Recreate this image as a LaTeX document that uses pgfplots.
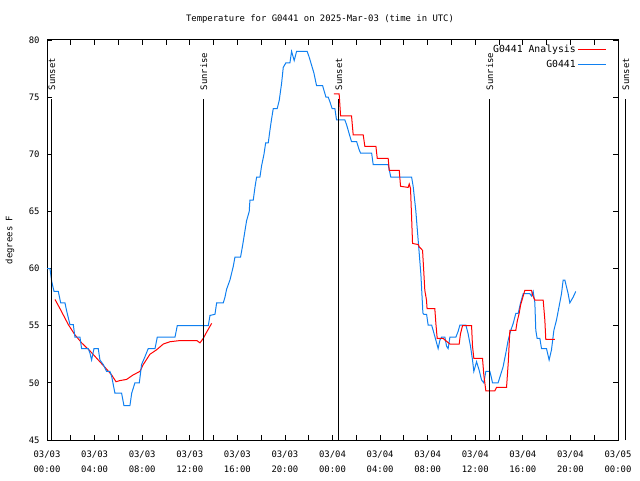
\documentclass[border=0pt]{standalone}
\usepackage{fontspec}
\setmainfont{DejaVu Sans Mono}
\usepackage{pgfplots}
\pgfplotsset{compat=1.18}
\definecolor{obsblue}{RGB}{16,128,240}
\definecolor{anared}{RGB}{255,0,0}
\begin{document}
\begin{tikzpicture}[font=\fontsize{8.9}{10.5}\selectfont]
\path[use as bounding box] (0,0) rectangle (640pt,480pt);
\begin{axis}[
 at={(47pt,40pt)}, anchor=south west,
 scale only axis, width=571pt, height=400pt,
 xmin=0, xmax=48, ymin=45, ymax=80,
 xtick={0,4,...,48},
 xticklabels={{03/03\\00:00},{03/03\\04:00},{03/03\\08:00},{03/03\\12:00},{03/03\\16:00},{03/03\\20:00},{03/04\\00:00},{03/04\\04:00},{03/04\\08:00},{03/04\\12:00},{03/04\\16:00},{03/04\\20:00},{03/05\\00:00}},
 xticklabel style={align=center, font=\fontsize{8.9}{15}\selectfont, yshift=-7pt},
 yticklabel style={xshift=-4pt},
 minor xtick={2,6,...,46},
 ytick={45,50,...,80},
 major tick length=5pt, minor tick length=5pt,
 tick style={black, line width=0.8pt},
 axis line style={line width=1pt},
 clip=false,
 /pgf/number format/assume math mode=true,
 legend style={at={(rel axis cs:1,1)}, anchor=north east, xshift=-10pt, yshift=-2pt, draw=none, fill=none, inner sep=1pt, row sep=2pt, font=\fontsize{9.8}{11}\selectfont},
 legend plot pos=right,
 legend cell align=right,
 legend image code/.code={\draw[#1] (3pt,0pt) -- (31pt,0pt);},
]
\addplot[anared, line width=1pt] coordinates {
(0.67,57.3)(1.09,56.5)(1.79,55.1)(2.35,54.2)(2.91,53.5)(3.61,52.8)(4.31,52.0)(5.01,51.2)(5.43,50.7)(5.80,50.1)(6.13,50.2)(6.69,50.3)(7.25,50.7)(7.81,51.0)(8.09,51.6)(8.65,52.5)(9.22,52.9)(9.78,53.4)(10.34,53.6)(11.18,53.7)(12.0,53.7)(12.6,53.7)(12.86,53.5)(13.14,53.9)(13.4,54.4)(13.84,55.2)
};
\addlegendentry{G0441 Analysis}
\addplot[obsblue, line width=1pt] coordinates {
(0,60)(0.25,60)(0.39,58.9)(0.59,58.0)(0.95,58.0)(1.15,57.0)(1.51,57.0)(1.65,56.3)(1.93,55.1)(2.21,55.1)(2.35,54.0)(2.77,54.0)(2.91,53.0)(3.47,53.0)(3.61,52.6)(3.75,52.0)(3.95,53.0)(4.31,53.0)(4.45,52.0)(4.73,51.6)(5.01,51.0)(5.29,51.0)(5.43,50.6)(5.71,49.1)(6.27,49.1)(6.47,48.0)(6.97,48.0)(7.12,49.1)(7.39,50.0)(7.76,50.0)(7.95,51.6)(8.24,52.3)(8.51,53.0)(9.08,53.0)(9.27,54.0)(10.76,54.0)(10.95,55.0)(13.56,55.0)
(13.70,55.9)(14.12,56.0)(14.26,57.0)(14.82,57.0)(14.96,57.5)(15.10,58.2)(15.38,59.0)(15.66,60.2)(15.80,61.0)(16.27,61.0)(16.44,62.0)(16.64,63.3)(16.78,64.2)(17.0,65.0)(17.06,66.0)(17.34,66.0)(17.48,67.1)(17.62,68.0)(17.90,68.0)(18.04,69.0)(18.24,70.0)(18.38,71.0)(18.60,71.0)(18.74,72.1)(18.88,73.1)(19.02,74.0)(19.35,74.0)(19.52,74.7)(19.72,76.2)(19.86,77.6)(20.08,78.0)(20.42,78.0)(20.56,79.0)(20.78,78.2)(20.98,79.0)(21.87,79.0)(22.04,78.5)(22.24,77.8)(22.44,77.1)(22.66,76.0)(23.17,76.0)(23.28,75.6)(23.45,75.0)(23.64,75.0)(23.78,74.6)(23.97,74.0)(24.20,74.0)(24.34,73.0)(25.04,73.0)(25.18,72.6)(25.40,71.8)(25.60,71.1)(26.03,71.1)(26.24,70.4)
(26.36,70.1)(27.29,70.1)(27.42,69.1)(28.68,69.1)(28.9,68.0)(30.65,68.0)(30.78,67.2)(31.0,65.1)(31.2,62.5)(31.43,59.5)(31.6,56.1)
(31.68,56.0)(31.91,56.0)(32.04,55.06)(32.33,55.06)(32.46,54.6)(32.75,53.5)(32.88,53.0)(33.03,53.75)(33.17,54.0)(33.45,54.0)(33.59,53.2)(33.72,53.0)(33.87,54.0)(34.37,54.0)(34.56,54.5)(34.71,55.06)(35.21,55.06)(35.40,54.3)(35.6,53.2)(35.77,52.0)(35.88,51.0)(36.11,51.85)(36.33,51.1)(36.53,50.25)(36.72,50.0)(36.89,51.0)(37.23,51.0)(37.37,50.4)(37.45,50.0)(37.92,50.0)(38.07,50.5)(38.34,51.4)(38.57,52.6)(38.77,53.75)(38.99,54.6)(39.19,55.2)(39.41,56.08)(39.61,56.08)(39.81,57.0)(40.03,57.8)(40.59,57.8)(40.73,57.6)(40.87,58.0)(41.01,57.0)(41.09,54.6)(41.2,53.9)(41.43,53.9)(41.57,53.0)(41.99,53.0)(42.21,52.0)(42.41,52.9)(42.61,54.6)(42.83,55.5)(43.05,56.7)(43.25,57.8)(43.39,59.0)(43.53,59.0)(43.67,58.4)(43.81,57.8)(43.95,57.0)(44.23,57.5)(44.45,58.0)
};
\addlegendentry{G0441}
\addplot[anared, line width=1pt, forget plot] coordinates {
(24.12,75.28)(24.56,75.28)(24.68,73.35)(25.6,73.35)(25.74,71.7)(26.58,71.7)(26.72,70.7)(27.65,70.7)(27.76,69.65)(28.68,69.65)(28.77,68.6)(29.61,68.6)(29.72,67.2)(30.36,67.1)(30.45,67.4)(30.56,67.0)(30.73,62.2)(31.2,62.1)(31.29,61.9)(31.57,61.6)(31.68,59.6)(31.76,58.1)(31.9,57.25)(31.95,56.5)(32.6,56.5)(32.69,55.2)(32.8,53.9)(33.3,53.9)(33.45,53.75)(33.87,53.4)(34.65,53.4)(34.76,54.3)(34.93,55.0)(35.69,55.0)(35.77,53.2)(35.88,52.15)(36.61,52.15)(36.72,50.7)(36.89,49.3)(37.65,49.3)(37.79,49.6)(38.63,49.6)(38.77,51.7)(38.91,54.6)(39.41,54.6)(39.52,55.35)(39.69,56.08)(39.81,56.8)(40.17,58.1)(40.73,58.1)(40.81,57.7)(41.01,57.25)(41.71,57.25)(41.85,55.5)(41.93,53.8)(42.69,53.8)
};
\addplot[black, line width=1pt, forget plot] coordinates {(0.42,45)(0.42,74.84)};
\addplot[black, line width=1pt, forget plot] coordinates {(13.19,45)(13.19,74.84)};
\addplot[black, line width=1pt, forget plot] coordinates {(24.54,45)(24.54,74.84)};
\addplot[black, line width=1pt, forget plot] coordinates {(37.23,45)(37.23,74.84)};
\addplot[black, line width=1pt, forget plot] coordinates {(48.66,45)(48.66,74.84)};
\node[rotate=90, anchor=west, inner sep=0pt, xshift=1.5pt] at (axis cs:0.42,75.45) {Sunset};
\node[rotate=90, anchor=west, inner sep=0pt, xshift=1.5pt] at (axis cs:13.19,75.45) {Sunrise};
\node[rotate=90, anchor=west, inner sep=0pt, xshift=1.5pt] at (axis cs:24.54,75.45) {Sunset};
\node[rotate=90, anchor=west, inner sep=0pt, xshift=1.5pt] at (axis cs:37.23,75.45) {Sunrise};
\node[rotate=90, anchor=west, inner sep=0pt, xshift=1.5pt] at (axis cs:48.66,75.45) {Sunset};
\end{axis}
\node at (320pt,461pt) {Temperature for G0441 on 2025-Mar-03 (time in UTC)};
\node[rotate=90] at (10pt,240pt) {degrees F};
\end{tikzpicture}
\end{document}
